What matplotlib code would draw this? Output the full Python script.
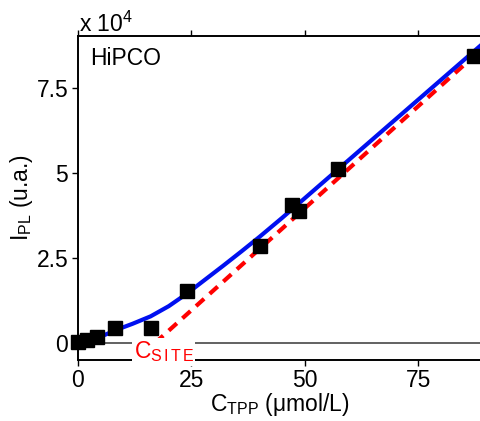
import numpy as np
import matplotlib
matplotlib.use('Agg')
import matplotlib.pyplot as plt

plt.rcParams['font.family'] = ['Liberation Sans', 'DejaVu Sans']
plt.rcParams['mathtext.fontset'] = 'custom'
plt.rcParams['mathtext.rm'] = 'Liberation Sans'
plt.rcParams['mathtext.it'] = 'Liberation Sans'

# measured points (C_TPP in umol/L, I_PL in 1e4 u.a.)
c_tpp = [0, 2, 4.2, 8.1, 16, 24, 40, 47.1, 48.7, 57.3, 87.2]
i_pl = [0.02, 0.09, 0.18, 0.44, 0.44, 1.53, 2.85, 4.06, 3.88, 5.12, 8.44]

# fitted curve (blue)
fit_x = [0, 2, 4, 6, 9, 12, 16, 20, 24, 28, 32, 36, 40, 45, 50, 55, 60, 65, 70, 75, 80, 85, 90]
fit_y = [0, 0.06, 0.14, 0.24, 0.41, 0.56, 0.78, 1.08, 1.45, 1.86, 2.27, 2.69, 3.12,
         3.68, 4.26, 4.84, 5.42, 6.0, 6.58, 7.16, 7.74, 8.32, 8.9]

# linear asymptote (red dashed)
lin_x = [17, 90]
lin_y = [0, 8.77]

xticks = [0, 25, 50, 75]
yticks = [0, 2.5, 5, 7.5]
ytick_labels = ['0', '2.5', '5', '7.5']

fs = 16.5

fig = plt.figure(figsize=(4.81, 4.21), dpi=100)
ax = fig.add_axes([78 / 481, 1 - 359.5 / 421, 1 - 78 / 481, (359.5 - 36) / 421])

ax.axhline(0, color='#555555', lw=1.3, zorder=1)
ax.plot(lin_x, lin_y, color='#ff0000', lw=3, ls=(0, (2.6, 1.8)), zorder=2)
ax.plot(fit_x, fit_y, color='#0010f0', lw=3, zorder=3)
ax.plot(c_tpp, i_pl, 's', color='black', ms=10, zorder=4, clip_on=False)

ax.set_xlim(0, 88.8)
ax.set_ylim(-0.49, 9.03)
ax.set_xticks(xticks)
ax.set_yticks(yticks)
ax.set_yticklabels(ytick_labels)

ax.spines['right'].set_visible(False)
for s in ['left', 'bottom', 'top']:
    ax.spines[s].set_linewidth(1.4)
ax.tick_params(direction='out', length=4, width=1, labelsize=fs, pad=3,
               top=True, labeltop=False)

ax.set_xlabel(r'$\mathregular{C_{TPP}}$ ($\mathregular{\mu}$mol/L)', fontsize=fs, labelpad=-1)
ax.set_ylabel(r'$\mathregular{I_{PL}}$ (u.a.)', fontsize=fs, labelpad=1)

ax.text(0.03, 0.91, 'HiPCO', transform=ax.transAxes, fontsize=fs, va='baseline')
fig.text(79 / 481, 1 - 32 / 421, r'x 10$^\mathregular{4}$', fontsize=fs, va='baseline')

ax.text(12.3, -0.27, r'$\mathregular{C_{S\,I\,T\,E}}$', color='#ff0000', fontsize=fs,
        va='center', ha='left', clip_on=False, zorder=5,
        bbox=dict(facecolor='white', edgecolor='none', pad=1.0))

fig.savefig('out.png', dpi=100)
